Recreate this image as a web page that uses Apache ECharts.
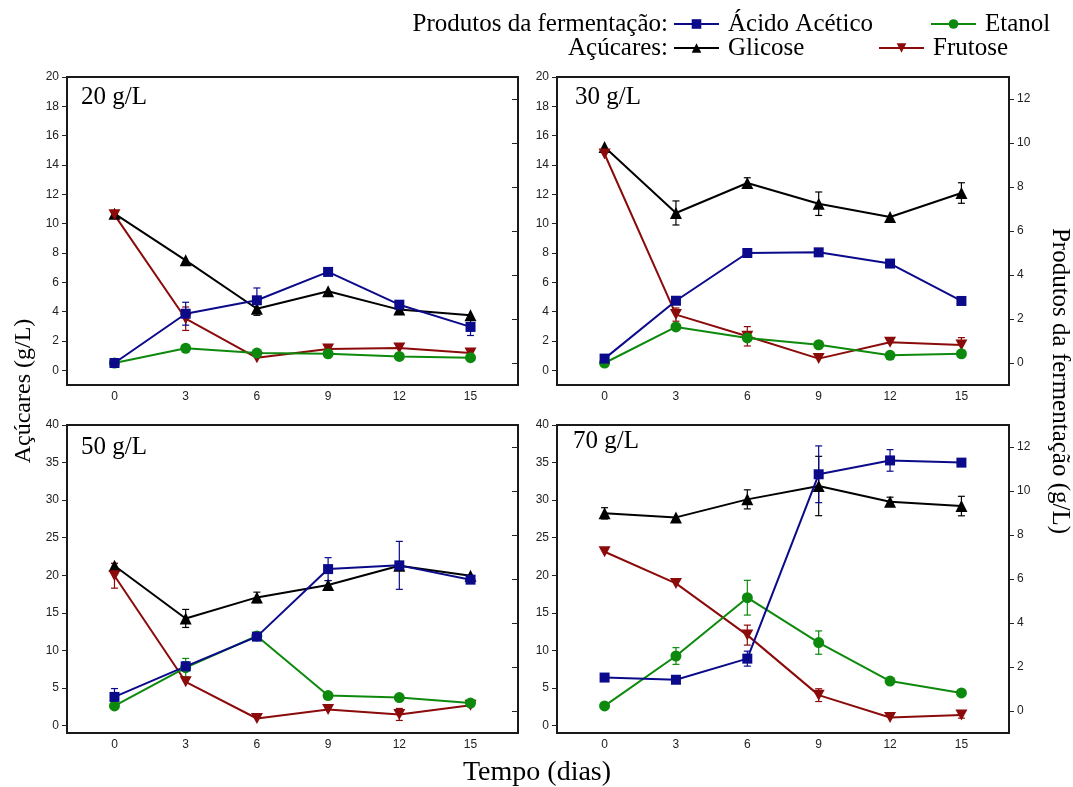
<!DOCTYPE html>
<html><head><meta charset="utf-8">
<script src="https://cdn.jsdelivr.net/npm/echarts@6/dist/echarts.min.js"></script>
<style>html,body{margin:0;padding:0;background:#fff}#c{width:1073px;height:787px}</style>
</head><body><div id="c"></div>
<script>
// ---------- data ----------
const days = [0, 3, 6, 9, 12, 15];
const xTickLabels = [0, 3, 6, 9, 12, 15];
const sugarTicksTop = [0, 2, 4, 6, 8, 10, 12, 14, 16, 18, 20];
const sugarTicksBottom = [0, 5, 10, 15, 20, 25, 30, 35, 40];
const productTicks = [0, 2, 4, 6, 8, 10, 12];
const panelTitles = ['20 g/L', '30 g/L', '50 g/L', '70 g/L'];

// sugars (left axis, g/L)
const glicose20 = [10.68, 7.5, 4.2, 5.39, 4.14, 3.75];
const frutose20 = [10.6, 3.52, 0.85, 1.45, 1.52, 1.18];
const glicose30 = [15.23, 10.73, 12.77, 11.36, 10.45, 12.09];
const frutose30 = [14.75, 3.8, 2.32, 0.8, 1.91, 1.73];
const glicose50 = [21.27, 14.25, 17.05, 18.69, 21.27, 19.93];
const frutose50 = [19.93, 5.82, 0.93, 2.13, 1.47, 2.7];
const glicose70 = [28.24, 27.7, 30.1, 31.88, 29.79, 29.21];
const frutose70 = [23.13, 18.91, 12.03, 4.04, 1.07, 1.38];

// fermentation products (right axis, g/L)
const acido20 = [0.0, 2.24, 2.85, 4.14, 2.65, 1.64];
const etanol20 = [0.0, 0.67, 0.45, 0.42, 0.3, 0.24];
const acido30 = [0.2, 2.83, 5.0, 5.03, 4.52, 2.82];
const etanol30 = [0.0, 1.64, 1.14, 0.83, 0.35, 0.42];
const acido50 = [0.64, 2.03, 3.38, 6.45, 6.62, 5.97];
const etanol50 = [0.23, 1.97, 3.41, 0.7, 0.61, 0.36];
const acido70 = [1.52, 1.42, 2.38, 10.76, 11.39, 11.29];
const etanol70 = [0.23, 2.5, 5.15, 3.11, 1.36, 0.82];

// error bars (± g/L)
const errGlicose20 = [0, 0, 0.45, 0, 0, 0];
const errFrutose20 = [0, 0.8, 0, 0, 0, 0.3];
const errAcido20 = [0, 0.52, 0.56, 0, 0, 0.39];
const errEtanol20 = [0, 0, 0, 0, 0, 0];
const errGlicose30 = [0, 0.82, 0.36, 0.8, 0, 0.7];
const errFrutose30 = [0, 0.45, 0.66, 0, 0, 0.5];
const errAcido30 = [0, 0, 0, 0, 0, 0];
const errEtanol30 = [0, 0, 0, 0, 0, 0];
const errGlicose50 = [0.3, 1.2, 0.7, 0.6, 0, 0];
const errFrutose50 = [1.65, 0, 0, 0, 0.8, 0];
const errAcido50 = [0.38, 0.2, 0.1, 0.52, 1.09, 0];
const errEtanol50 = [0, 0.42, 0, 0, 0, 0];
const errGlicose70 = [0.75, 0, 1.27, 3.95, 0.6, 1.3];
const errFrutose70 = [0, 0, 1.33, 0.85, 0, 0.4];
const errAcido70 = [0, 0, 0.34, 1.29, 0.49, 0];
const errEtanol70 = [0, 0.38, 0.79, 0.53, 0, 0];

const NAMES = { acido: 'Ácido Acético', etanol: 'Etanol', glicose: 'Glicose', frutose: 'Frutose' };
const COLORS = { acido: '#0a0a8a', etanol: '#0d8a0d', glicose: '#000000', frutose: '#8b0a0a' };
const SYMBOLS = { acido: 'rect', etanol: 'circle', glicose: 'triangle', frutose: 'path://M0,0L10,0L5,9Z' };
const SYMSIZE = { acido: 10, etanol: 11, glicose: 12, frutose: [12, 11] };

const panels = [
  { glicose: glicose20, frutose: frutose20, acido: acido20, etanol: etanol20,
    eg: errGlicose20, ef: errFrutose20, ea: errAcido20, ee: errEtanol20 },
  { glicose: glicose30, frutose: frutose30, acido: acido30, etanol: etanol30,
    eg: errGlicose30, ef: errFrutose30, ea: errAcido30, ee: errEtanol30 },
  { glicose: glicose50, frutose: frutose50, acido: acido50, etanol: etanol50,
    eg: errGlicose50, ef: errFrutose50, ea: errAcido50, ee: errEtanol50 },
  { glicose: glicose70, frutose: frutose70, acido: acido70, etanol: etanol70,
    eg: errGlicose70, ef: errFrutose70, ea: errAcido70, ee: errEtanol70 }
];

// ---------- layout ----------
const gridBoxes = [
  { left: 67, top: 77, width: 451, height: 308 },
  { left: 557, top: 77, width: 452, height: 308 },
  { left: 67, top: 425, width: 451, height: 308 },
  { left: 557, top: 425, width: 452, height: 308 }
];
const labelFont = { fontFamily: 'Liberation Sans, Arial, sans-serif', fontSize: 12, color: '#222' };
const serif = 'Liberation Serif, Times New Roman, serif';

const grid = gridBoxes.map(g => Object.assign({ show: true, borderColor: '#1a1a1a', borderWidth: 2, backgroundColor: 'transparent' }, g));

const xAxis = gridBoxes.map((g, i) => ({
  type: 'value', gridIndex: i, min: -2, max: 17,
  splitLine: { show: false }, axisLine: { show: false, onZero: false }, axisTick: { show: false },
  axisLabel: Object.assign({ customValues: xTickLabels, margin: 6 }, labelFont)
}));

const yAxis = [];
gridBoxes.forEach((g, i) => {
  const bottom = i >= 2;
  const rightPanel = i % 2 === 1;
  yAxis.push({
    type: 'value', gridIndex: i, position: 'left', min: -1, max: bottom ? 40 : 20,
    splitLine: { show: false }, axisLine: { show: false, onZero: false },
    axisTick: { show: true, inside: false, length: 5, lineStyle: { color: '#222', width: 1 },
      customValues: bottom ? sugarTicksBottom : sugarTicksTop },
    axisLabel: Object.assign({ customValues: bottom ? sugarTicksBottom : sugarTicksTop, margin: 8 }, labelFont)
  });
  yAxis.push({
    type: 'value', gridIndex: i, position: 'right', min: -1, max: 13,
    splitLine: { show: false }, axisLine: { show: false, onZero: false },
    axisTick: { show: true, inside: !rightPanel, length: rightPanel ? 5 : 6, lineStyle: { color: '#222', width: 1 },
      customValues: productTicks },
    axisLabel: Object.assign({ show: rightPanel, customValues: productTicks, margin: 8 }, labelFont)
  });
});

function lineSeries(key, vals, gi, yi) {
  return {
    type: 'line', name: NAMES[key], xAxisIndex: gi, yAxisIndex: yi,
    data: days.map((d, k) => [d, vals[k]]),
    symbol: SYMBOLS[key], symbolSize: SYMSIZE[key], showSymbol: true,
    lineStyle: { color: COLORS[key], width: 2 },
    itemStyle: { color: COLORS[key], opacity: 1 },
    emphasis: { disabled: true }, animation: false, z: 3
  };
}
function errSeries(key, vals, errs, gi, yi) {
  return {
    type: 'custom', name: NAMES[key] + ' (erro)', xAxisIndex: gi, yAxisIndex: yi,
    data: days.map((d, k) => [d, vals[k], errs[k]]),
    encode: { x: 0, y: 1 }, animation: false, z: 2, silent: true,
    renderItem: function (params, api) {
      const e = api.value(2);
      if (!e) return null;
      const x = api.value(0), y = api.value(1);
      const hi = api.coord([x, y + e]);
      const lo = api.coord([x, y - e]);
      const w = 3.5;
      const st = { stroke: COLORS[key], lineWidth: 1.2 };
      return { type: 'group', children: [
        { type: 'line', shape: { x1: hi[0], y1: hi[1], x2: lo[0], y2: lo[1] }, style: st },
        { type: 'line', shape: { x1: hi[0] - w, y1: hi[1], x2: hi[0] + w, y2: hi[1] }, style: st },
        { type: 'line', shape: { x1: lo[0] - w, y1: lo[1], x2: lo[0] + w, y2: lo[1] }, style: st }
      ] };
    }
  };
}

const series = [];
panels.forEach((p, i) => {
  const yl = i * 2, yr = i * 2 + 1;
  series.push(lineSeries('glicose', p.glicose, i, yl));
  series.push(lineSeries('frutose', p.frutose, i, yl));
  series.push(lineSeries('etanol', p.etanol, i, yr));
  series.push(lineSeries('acido', p.acido, i, yr));
  series.push(errSeries('glicose', p.glicose, p.eg, i, yl));
  series.push(errSeries('frutose', p.frutose, p.ef, i, yl));
  series.push(errSeries('acido', p.acido, p.ea, i, yr));
  series.push(errSeries('etanol', p.etanol, p.ee, i, yr));
});

function legendAt(name, left, cy) {
  return {
    data: [name], left: left, top: cy - 13, padding: 0, itemWidth: 45, itemHeight: 12, itemGap: 0,
    selectedMode: false,
    textStyle: { fontFamily: serif, fontSize: 25, color: '#000', lineHeight: 26, padding: [0, 0, 0, 4] }
  };
}
const legend = [
  legendAt(NAMES.acido, 673, 24),
  legendAt(NAMES.etanol, 930, 24),
  legendAt(NAMES.glicose, 673, 48),
  legendAt(NAMES.frutose, 878, 48)
];

const titlePos = [[81, 99], [575, 99], [81, 449], [573, 443]];
const graphic = [];
panelTitles.forEach((t, i) => {
  graphic.push({ type: 'text', left: titlePos[i][0], top: titlePos[i][1] - 14,
    style: { text: t, font: '25px ' + serif, fill: '#000' } });
});
graphic.push({ type: 'text', x: 668, y: 24, style: { text: 'Produtos da fermentação:', font: '25px ' + serif, fill: '#000', align: 'right', verticalAlign: 'middle' } });
graphic.push({ type: 'text', x: 668, y: 48, style: { text: 'Açúcares:', font: '25px ' + serif, fill: '#000', align: 'right', verticalAlign: 'middle' } });
graphic.push({ type: 'text', x: 24, y: 391, rotation: Math.PI / 2, style: { text: 'Açúcares (g/L)', font: '24px ' + serif, fill: '#000', align: 'center', verticalAlign: 'middle' } });
graphic.push({ type: 'text', x: 1060, y: 381, rotation: -Math.PI / 2, style: { text: 'Produtos da fermentação (g/L)', font: '25px ' + serif, fill: '#000', align: 'center', verticalAlign: 'middle' } });
graphic.push({ type: 'text', x: 537, y: 773, style: { text: 'Tempo (dias)', font: '28px ' + serif, fill: '#000', align: 'center', verticalAlign: 'middle' } });

const chart = echarts.init(document.getElementById('c'), null, { renderer: 'canvas' });
chart.setOption({
  backgroundColor: '#fff', animation: false,
  grid: grid, xAxis: xAxis, yAxis: yAxis, series: series, legend: legend, graphic: graphic
});
</script></body></html>
